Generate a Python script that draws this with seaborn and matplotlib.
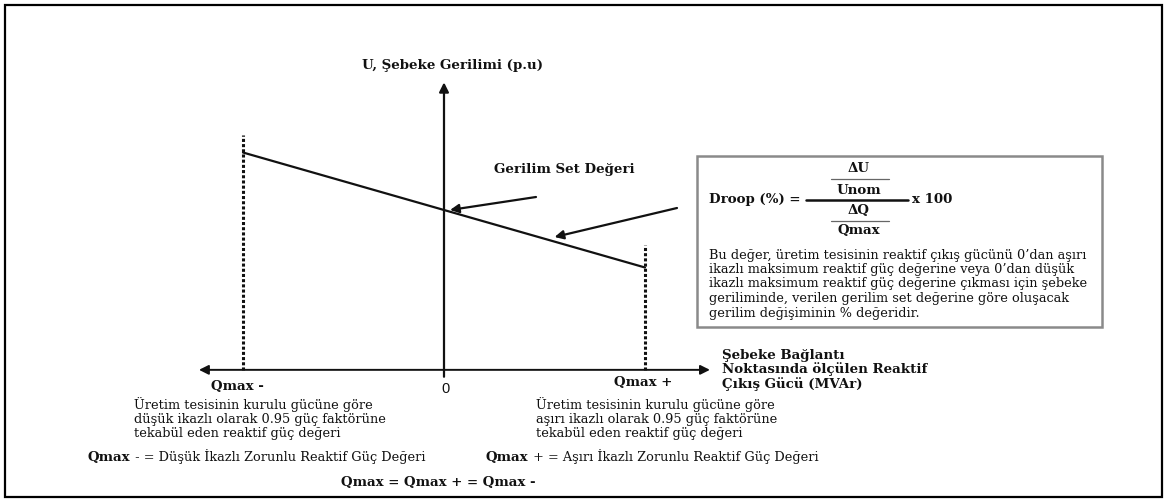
import matplotlib
matplotlib.use("Agg")
import matplotlib.pyplot as plt
import seaborn as sns
import pandas as pd
from matplotlib.patches import Rectangle

# droop characteristic (Q in p.u. of Qmax, U in p.u.)
q_points = [-1.0, 1.0]
u_points = [1.05, 0.95]
u_set = 1.0
u_axis = 0.861          # level of the horizontal Q axis
u_axis_top = 1.111
u_axis_bottom = 0.855
q_axis_left = -1.219
q_axis_right = 1.323
u_dash_left_top = 1.065
u_dash_right_top = 0.970

left_desc = [
    "Üretim tesisinin kurulu gücüne göre",
    "düşük ikazlı olarak 0.95 güç faktörüne",
    "tekabül eden reaktif güç değeri",
]
right_desc = [
    "Üretim tesisinin kurulu gücüne göre",
    "aşırı ikazlı olarak 0.95 güç faktörüne",
    "tekabül eden reaktif güç değeri",
]
xlabel_lines = ["Şebeke Bağlantı", "Noktasında ölçülen Reaktif", "Çıkış Gücü (MVAr)"]
box_lines = [
    "Bu değer, üretim tesisinin reaktif çıkış gücünü 0’dan aşırı",
    "ikazlı maksimum reaktif güç değerine veya 0’dan düşük",
    "ikazlı maksimum reaktif güç değerine çıkması için şebeke",
    "geriliminde, verilen gerilim set değerine göre oluşacak",
    "gerilim değişiminin % değeridir.",
]

sns.set_theme(style="white")
plt.rcParams["font.family"] = ["DejaVu Serif", "Liberation Serif"]

W, H = 1167, 501
fig = plt.figure(figsize=(W / 100, H / 100), dpi=100)
ax = fig.add_axes([0, 0, 1, 1])

# scale: Q=0 at px 444, 201 px per Qmax; U=1.0 at px 210, 57.5 px per 0.05
ax.set_xlim((0 - 444) / 201, (W - 444) / 201)
ax.set_ylim(1.0 - (H - 210) / 1150, 1.0 + 210 / 1150)
ax.axis("off")


def px(x, y):
    return x / W, 1 - y / H


ink = "#111111"
fs = 9.3
fsb = 9.6

# outer frame
ax.add_patch(Rectangle(px(5, 497), 1157 / W, 492 / H, transform=ax.transAxes,
                       fill=False, ec="black", lw=1.6))

# axes arrows
ax.annotate("", xy=(q_axis_left, u_axis), xytext=(q_axis_right, u_axis),
            arrowprops=dict(arrowstyle="<|-|>", color=ink, lw=1.4,
                            mutation_scale=14, shrinkA=0, shrinkB=0))
ax.annotate("", xy=(0, u_axis_top), xytext=(0, u_axis_bottom),
            arrowprops=dict(arrowstyle="-|>", color=ink, lw=1.6,
                            mutation_scale=14, shrinkA=0, shrinkB=0))

# Qmax limits
ax.vlines(q_points[0], u_axis, u_dash_left_top, colors=ink, lw=2.2,
          linestyles=(0, (1.0, 0.7)))
ax.vlines(q_points[1], u_axis, u_dash_right_top, colors=ink, lw=2.2,
          linestyles=(0, (1.0, 0.7)))

# droop line
df = pd.DataFrame({"Q": q_points, "U": u_points})
sns.lineplot(data=df, x="Q", y="U", ax=ax, color=ink, lw=1.6)

# callouts
ax.annotate("", xy=(0.03, u_set), xytext=px(536, 197), textcoords="axes fraction",
            arrowprops=dict(arrowstyle="-|>", color=ink, lw=1.6,
                            mutation_scale=13, shrinkA=0, shrinkB=0))
q_call = 0.55
ax.annotate("", xy=(q_call, u_set - 0.05 * q_call + 0.004), xytext=px(677, 208),
            textcoords="axes fraction",
            arrowprops=dict(arrowstyle="-|>", color=ink, lw=1.6,
                            mutation_scale=13, shrinkA=0, shrinkB=0))


def txt(x, y, s, bold=False, ha="left", size=None, va="center", **kw):
    return ax.text(*px(x, y), s, transform=ax.transAxes, ha=ha, va=va,
                   fontsize=size or (fsb if bold else fs),
                   fontweight="bold" if bold else "normal", color=ink, **kw)


txt(452, 65, "U, Şebeke Gerilimi (p.u)", bold=True, ha="center")
txt(494, 170, "Gerilim Set Değeri", bold=True)
txt(237, 386, "Qmax -", bold=True, ha="center")
txt(643, 383, "Qmax +", bold=True, ha="center")
txt(446, 389, "0", ha="center", size=10.5, family=["Liberation Sans"])

for i, s in enumerate(xlabel_lines):
    txt(722, 355 + 14.5 * i, s, bold=True)
for i, s in enumerate(left_desc):
    txt(134, 405 + 14.5 * i, s)
for i, s in enumerate(right_desc):
    txt(536, 405 + 14.5 * i, s)

fig.canvas.draw()
renderer = fig.canvas.get_renderer()


def mixed(x, y, bold_part, rest):
    t = txt(x, y + 4, bold_part, bold=True, va="baseline")
    bb = t.get_window_extent(renderer)
    txt(x + bb.width, y + 4, rest, va="baseline")


mixed(88, 457, "Qmax", " - = Düşük İkazlı Zorunlu Reaktif Güç Değeri")
mixed(486, 457, "Qmax", " + = Aşırı İkazlı Zorunlu Reaktif Güç Değeri")
txt(341, 482, "Qmax = Qmax + = Qmax -", bold=True)

# droop box
ax.add_patch(Rectangle(px(697, 327), 405 / W, 171 / H, transform=ax.transAxes,
                       fill=False, ec="#8a8a8a", lw=1.8))
txt(709, 199, "Droop (%) =", bold=True)
txt(859, 168, "ΔU", bold=True, ha="center")
txt(859, 190, "Unom", bold=True, ha="center")
txt(859, 211, "ΔQ", bold=True, ha="center")
txt(859, 231, "Qmax", bold=True, ha="center")
txt(912, 199, "x 100", bold=True)
for (x0, x1, y, lw, c) in [(831, 889, 179, 0.9, "#666666"),
                           (806, 908, 200, 1.8, ink),
                           (831, 889, 221, 0.9, "#666666")]:
    ax.plot([x0 / W, x1 / W], [1 - y / H, 1 - y / H], transform=ax.transAxes,
            color=c, lw=lw)
for i, s in enumerate(box_lines):
    txt(709, 255 + 14.5 * i, s)

fig.savefig("out.png", dpi=100)
plt.close(fig)
